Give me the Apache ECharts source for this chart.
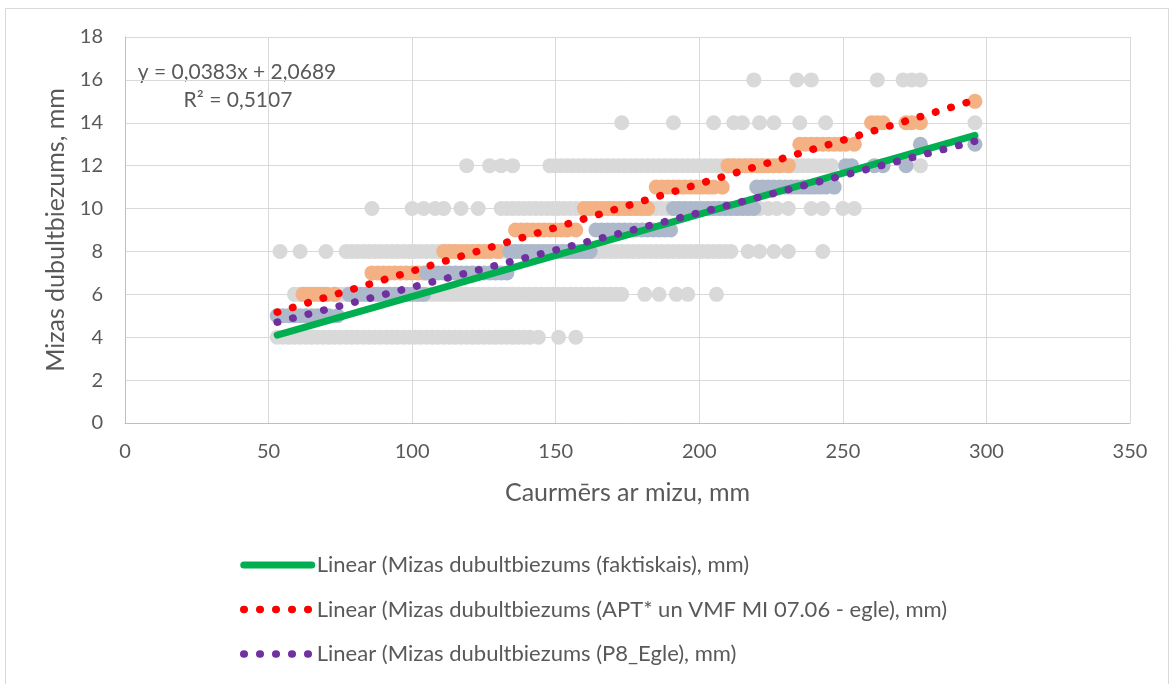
<!DOCTYPE html>
<html>
<head>
<meta charset="utf-8">
<script src="https://cdn.jsdelivr.net/npm/echarts@6/dist/echarts.min.js"></script>
<style>
html,body{margin:0;padding:0;background:#fff;}
#chart{width:1174px;height:684px;}
</style>
</head>
<body>
<div id="chart"></div>
<script>
// ---- Data ----
// Mizas dubultbiezums (faktiskais), mm — x values (Caurmērs) per thickness level
var grayL4 = [53,55,57,59,61,63,65,67,69,71,73,75,77,79,81,83,85,87,89,91,93,95,97,99,101,103,105,107,109,111,113,115,117,119,121,123,125,127,129,131,133,135,137,139,141,144,151,157];
var grayL6 = [59,61,63,65,67,69,71,73,75,77,79,81,83,85,87,89,91,93,95,97,99,101,103,105,107,109,111,113,115,117,119,121,123,125,127,129,131,133,135,137,139,141,143,145,147,149,151,153,155,157,159,161,163,165,167,169,171,173,181,186,192,196,206];
var grayL8 = [54,61,70,77,79,81,83,85,87,89,91,93,95,97,99,101,103,105,107,109,111,113,115,117,119,121,123,125,127,129,131,133,135,137,139,141,143,145,147,149,151,153,155,157,159,161,163,165,167,169,171,173,175,177,179,181,183,185,187,189,191,193,195,197,199,201,203,205,207,209,211,217,221,226,231,243];
var grayL10 = [86,100,104,108,111,117,123,131,133,135,137,139,141,143,145,147,149,151,153,155,157,159,161,163,165,167,169,171,173,175,177,179,181,183,185,187,189,191,193,195,197,199,201,203,205,207,209,211,213,215,217,219,221,224,227,231,239,243,250,254];
var grayL12 = [119,127,131,135,148,150,152,154,156,158,160,162,164,166,168,170,172,174,176,178,180,182,184,186,188,190,192,194,196,198,200,202,204,206,208,210,212,214,216,218,220,222,224,226,228,230,232,234,236,238,240,242,244,246,277];
var grayL14 = [173,191,205,212,215,221,226,235,244,296];
var grayL16 = [219,234,239,262,271,274,277];

// Mizas dubultbiezums (APT* un VMF MI 07.06 - egle), mm
var aptL6 = [62,64,66,68,70,73];
var aptL7 = [86,88,90,92,94,96,98,100,102,104];
var aptL8 = [111,113,115,117,119,121,123,125,127,130];
var aptL9 = [136,138,140,142,144,146,148,150,152,154,157];
var aptL10 = [160,162,164,166,168,170,172,174,176,178,180,182];
var aptL11 = [185,187,189,191,193,195,197,199,201,203,205,208];
var aptL12 = [210,212,214,216,218,220,222,224,226,228,231];
var aptL13 = [235,237,239,241,243,245,247,249,251,254];
var aptL14 = [260,262,264,272,274,277];
var aptL15 = [296];

// Mizas dubultbiezums (P8_Egle), mm
var p8L5 = [53,55,57,59,61,63,65,67,69,71,74];
var p8L6 = [78,80,82,84,86,88,90,92,94,96,98,100,102,104];
var p8L7 = [105,107,109,111,113,115,117,119,121,123,125,127,129,131,133];
var p8L8 = [134,136,138,140,142,144,146,148,150,152,154,156,158,160,162];
var p8L9 = [164,166,168,170,172,174,176,178,180,182,184,186,188,190];
var p8L10 = [191,193,195,197,199,201,203,205,207,209,211,213,215,217,219];
var p8L11 = [220,222,224,226,228,230,232,234,236,238,240,242,244,247];
var p8L12 = [251,253,261,264,272];
var p8L13 = [277,296];

// Linear trendlines: end points [x, y]
var trendX = [53, 296];
var trendFakt = [4.10, 13.41];   // y = 0,0383x + 2,0689
var trendApt = [5.17, 15.06];
var trendP8 = [4.70, 13.14];

var xTicks = {min: 0, max: 350, step: 50};
var yTicks = {min: 0, max: 18, step: 2};

var legendNames = [
  'Linear (Mizas dubultbiezums (faktiskais), mm)',
  'Linear (Mizas dubultbiezums (APT* un VMF MI 07.06 - egle), mm)',
  'Linear (Mizas dubultbiezums (P8_Egle), mm)'
];
var eqLines = ['y = 0,0383x + 2,0689', 'R² = 0,5107'];

// ---- build point tables ----
function pts(levels) {
  var out = [];
  levels.forEach(function (lv) {
    lv[1].forEach(function (x) { out.push([x, lv[0]]); });
  });
  return out;
}
var grayPts = pts([[4, grayL4],[6, grayL6],[8, grayL8],[10, grayL10],[12, grayL12],[14, grayL14],[16, grayL16]]);
var aptPts = pts([[6, aptL6],[7, aptL7],[8, aptL8],[9, aptL9],[10, aptL10],[11, aptL11],[12, aptL12],[13, aptL13],[14, aptL14],[15, aptL15]]);
var p8Pts = pts([[5, p8L5],[6, p8L6],[7, p8L7],[8, p8L8],[9, p8L9],[10, p8L10],[11, p8L11],[12, p8L12],[13, p8L13]]);
function line(ys) { return [[trendX[0], ys[0]], [trendX[1], ys[1]]]; }

var FONT = 'Lato, "Open Sans", sans-serif';
var TXT = '#595959';
var DOTS = [0.5, 15.5];

var chart = echarts.init(document.getElementById('chart'), null, {renderer: 'canvas'});
chart.setOption({
  backgroundColor: '#ffffff',
  animation: false,
  textStyle: {fontFamily: FONT},
  grid: {left: 125, right: 44, top: 37, bottom: 261, containLabel: false},
  xAxis: {
    type: 'value', min: xTicks.min, max: xTicks.max, interval: xTicks.step,
    name: 'Caurmērs ar mizu, mm', nameLocation: 'middle', nameGap: 57,
    nameTextStyle: {color: TXT, fontSize: 25, fontFamily: FONT},
    axisLine: {show: true, lineStyle: {color: '#BFBFBF', width: 1}},
    axisTick: {show: false},
    axisLabel: {color: TXT, fontSize: 20, margin: 19, fontFamily: FONT},
    splitLine: {show: true, lineStyle: {color: '#D9D9D9', width: 1}}
  },
  yAxis: {
    type: 'value', min: yTicks.min, max: yTicks.max, interval: yTicks.step,
    name: 'Mizas dubultbiezums, mm', nameLocation: 'middle', nameGap: 55, nameRotate: 90,
    nameTextStyle: {color: TXT, fontSize: 25, fontFamily: FONT},
    axisLine: {show: true, lineStyle: {color: '#BFBFBF', width: 1}},
    axisTick: {show: false},
    axisLabel: {color: TXT, fontSize: 20, margin: 22, fontFamily: FONT},
    splitLine: {show: true, lineStyle: {color: '#D9D9D9', width: 1}}
  },
  legend: {
    orient: 'vertical', left: 235, top: 547,
    itemWidth: 68, itemHeight: 14, itemGap: 18.5,
    selectedMode: false,
    textStyle: {color: TXT, fontSize: 22, lineHeight: 26, fontFamily: FONT},
    data: [
      {name: legendNames[0], itemStyle: {opacity: 0}, lineStyle: {color: '#00B050', width: 7, cap: 'round'}},
      {name: legendNames[1], itemStyle: {opacity: 0}, lineStyle: {color: '#FF0000', width: 7.5, type: DOTS, cap: 'round'}},
      {name: legendNames[2], itemStyle: {opacity: 0}, lineStyle: {color: '#7030A0', width: 7.5, type: DOTS, cap: 'round'}}
    ]
  },
  graphic: [
    {type: 'rect', shape: {x: 5.5, y: 8.5, width: 1163, height: 690}, style: {fill: 'none', stroke: '#D9D9D9', lineWidth: 1}, silent: true, z: -10},
    {type: 'text', x: 237, y: 72, style: {text: eqLines[0], fill: TXT, font: '21px ' + FONT, textAlign: 'center', textVerticalAlign: 'middle'}},
    {type: 'text', x: 238, y: 100, style: {text: eqLines[1], fill: TXT, font: '21px ' + FONT, textAlign: 'center', textVerticalAlign: 'middle'}}
  ],
  series: [
    {name: 'Mizas dubultbiezums (faktiskais), mm', type: 'scatter', data: grayPts, symbolSize: 15,
      itemStyle: {color: '#D9D9D9', opacity: 1}, z: 2, emphasis: {disabled: true}},
    {name: 'Mizas dubultbiezums (APT* un VMF MI 07.06 - egle), mm', type: 'scatter', data: aptPts, symbolSize: 15,
      itemStyle: {color: '#F4B183', opacity: 1}, z: 3, emphasis: {disabled: true}},
    {name: 'Mizas dubultbiezums (P8_Egle), mm', type: 'scatter', data: p8Pts, symbolSize: 15,
      itemStyle: {color: '#ADB9CA', opacity: 1}, z: 4, emphasis: {disabled: true}},
    {name: legendNames[0], type: 'line', data: line(trendFakt), symbol: 'none', z: 5,
      lineStyle: {color: '#00B050', width: 7, cap: 'round'}, itemStyle: {color: '#00B050'}},
    {name: legendNames[1], type: 'line', data: line(trendApt), symbol: 'none', z: 6,
      lineStyle: {color: '#FF0000', width: 7.5, type: DOTS, cap: 'round'}, itemStyle: {color: '#FF0000'}},
    {name: legendNames[2], type: 'line', data: line(trendP8), symbol: 'none', z: 7,
      lineStyle: {color: '#7030A0', width: 7.5, type: DOTS, cap: 'round'}, itemStyle: {color: '#7030A0'}}
  ]
});
</script>
</body>
</html>
